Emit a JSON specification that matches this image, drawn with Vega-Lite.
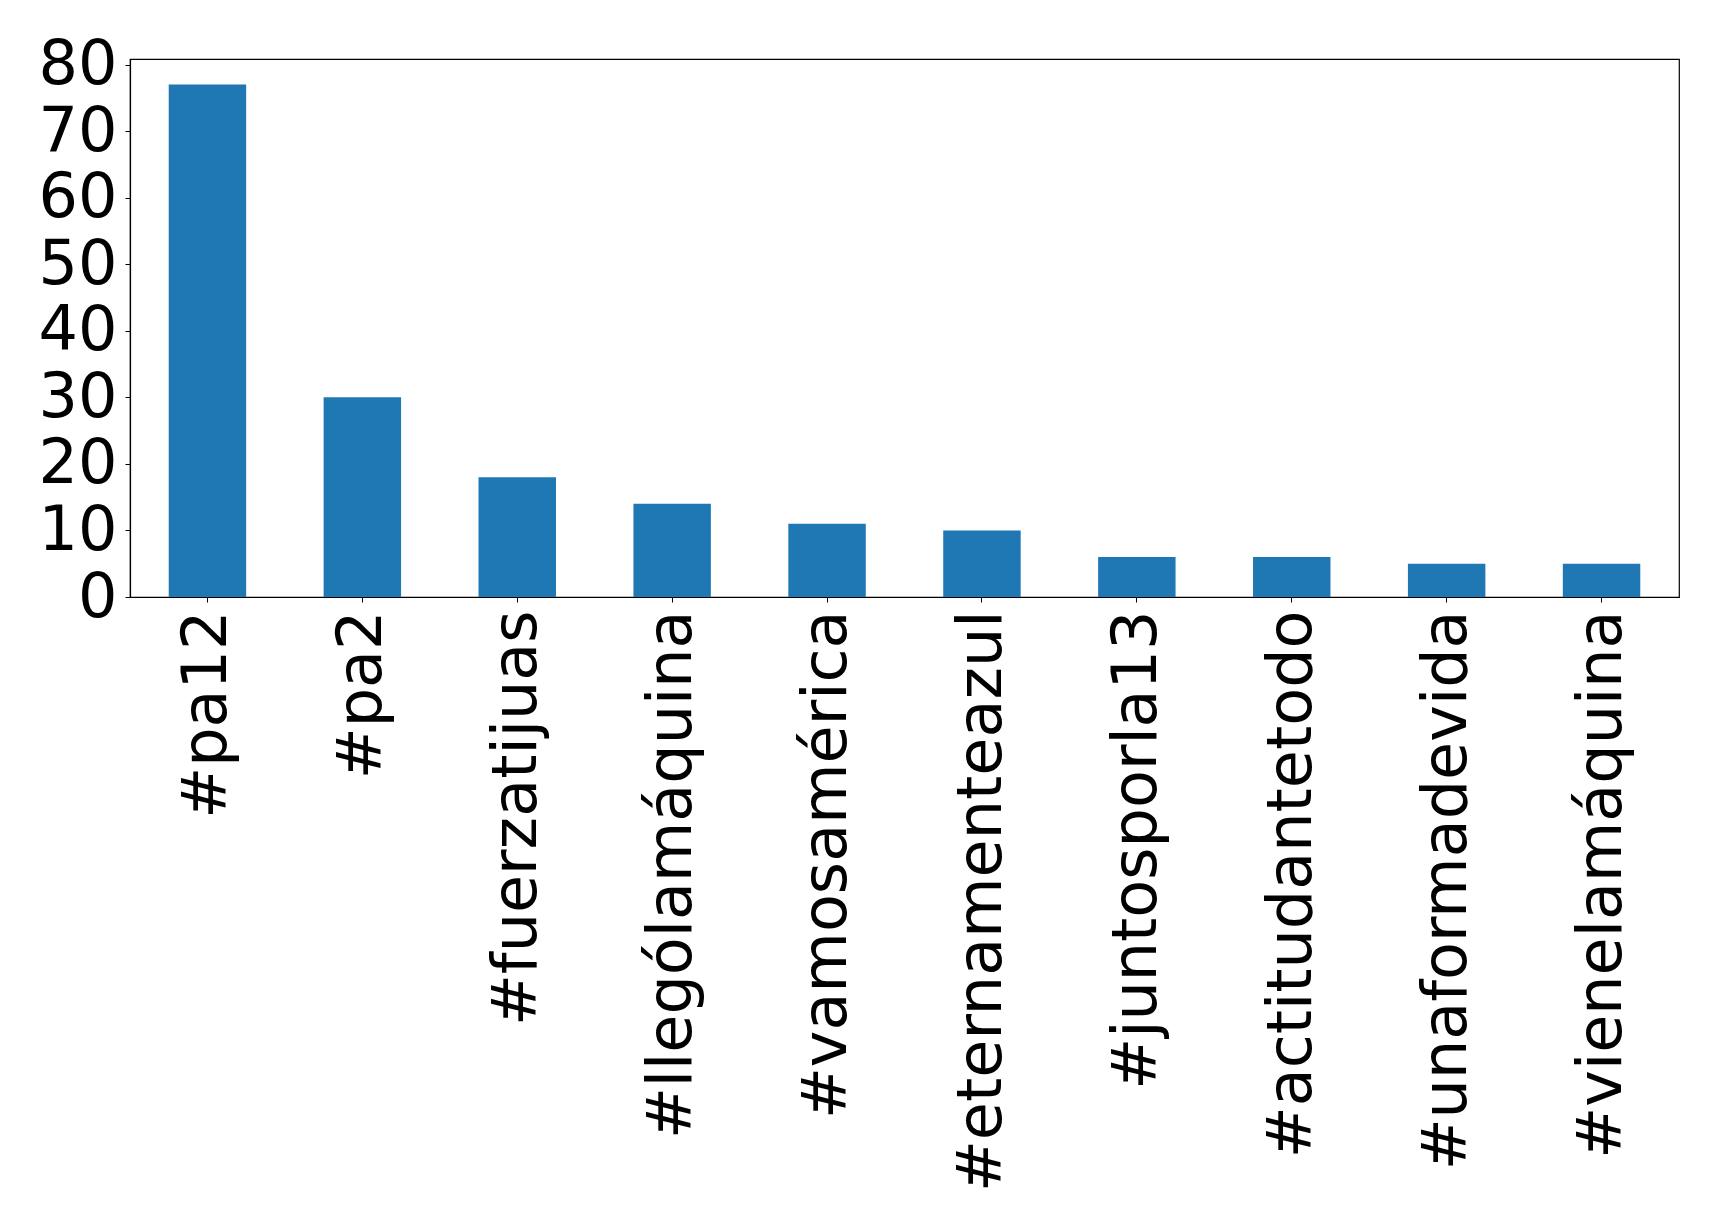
{
  "$schema": "https://vega.github.io/schema/vega-lite/v6.json",
  "autosize": {"type": "none"},
  "padding": {"left": 130, "top": 59, "right": 40, "bottom": 635},
  "width": 1549,
  "height": 538,
  "background": "white",
  "config": {
    "view": {"stroke": "black", "strokeWidth": 1.2},
    "font": "DejaVu Sans"
  },
  "data": {
    "values": [
      {"hashtag": "#pa12", "count": 77},
      {"hashtag": "#pa2", "count": 30},
      {"hashtag": "#fuerzatijuas", "count": 18},
      {"hashtag": "#llególamáquina", "count": 14},
      {"hashtag": "#vamosamérica", "count": 11},
      {"hashtag": "#eternamenteazul", "count": 10},
      {"hashtag": "#juntosporla13", "count": 6},
      {"hashtag": "#actitudantetodo", "count": 6},
      {"hashtag": "#unaformadevida", "count": 5},
      {"hashtag": "#vienelamáquina", "count": 5}
    ]
  },
  "mark": {"type": "bar", "color": "#1f77b4"},
  "encoding": {
    "x": {
      "field": "hashtag",
      "type": "nominal",
      "sort": null,
      "scale": {"paddingInner": 0.5, "paddingOuter": 0.25},
      "axis": {
        "title": null,
        "labelAngle": -90,
        "labelFontSize": 62,
        "labelFont": "DejaVu Sans",
        "labelColor": "black",
        "labelPadding": 8,
        "labelLimit": 0,
        "labelOverlap": false,
        "tickSize": 5,
        "tickColor": "black",
        "domainColor": "black",
        "domainWidth": 1.2,
        "grid": false
      }
    },
    "y": {
      "field": "count",
      "type": "quantitative",
      "scale": {"domain": [0, 80.85], "nice": false},
      "axis": {
        "title": null,
        "values": [0, 10, 20, 30, 40, 50, 60, 70, 80],
        "labelFontSize": 62,
        "labelFont": "DejaVu Sans",
        "labelColor": "black",
        "labelPadding": 8,
        "labelOverlap": false,
        "tickSize": 5,
        "tickColor": "black",
        "domainColor": "black",
        "domainWidth": 1.2,
        "grid": false
      }
    }
  }
}
